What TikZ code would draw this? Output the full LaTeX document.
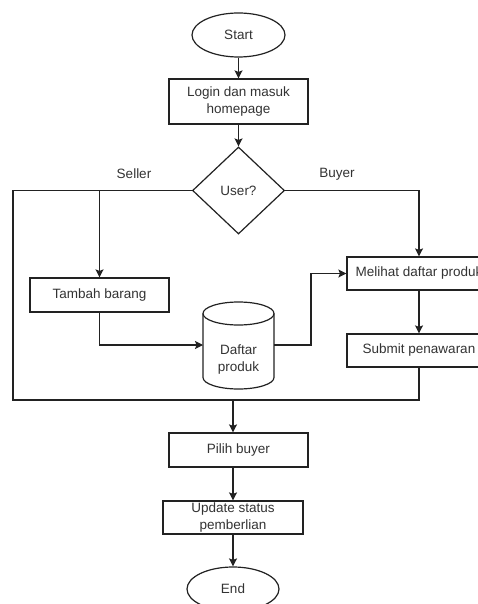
\documentclass[tikz,border=0pt]{standalone}
\usepackage{fontspec}
\setmainfont{Liberation Sans}
\usetikzlibrary{shapes.geometric,arrows.meta}
\definecolor{ln}{HTML}{222222}
\definecolor{tx}{HTML}{333333}
\tikzset{
  base/.style={draw=ln, line width=1.2pt, text=tx, font=\fontsize{13.5}{17}\selectfont, align=center, inner sep=0pt},
  procbox/.style={base, rectangle, minimum width=139pt, minimum height=34pt},
  term/.style={base, ellipse, minimum width=93pt, minimum height=44pt},
  decision/.style={base, diamond, minimum width=92pt, minimum height=87pt},
  lbl/.style={text=tx, font=\fontsize{13.5}{17}\selectfont, inner sep=0pt},
  conn/.style={draw=ln, line width=1.2pt},
  arr/.style={conn, -{Stealth[length=8pt,width=8pt,inset=1.5pt]}}
}
\begin{document}
\begin{tikzpicture}[x=1pt,y=-1pt]
\useasboundingbox (0,0) rectangle (478,604);
\clip (0,0) rectangle (478,604);
\fill[white] (0,0) rectangle (478,604);

\node[term] (start) at (238.5,35) {Start};
\node[procbox, minimum height=45pt] (login) at (238.5,101.5) {Login dan masuk\\homepage};
\node[decision] (dec) at (238.5,190.5) {User?};
\node[lbl] (seller) at (134,174) {Seller};
\node[lbl] (buyer) at (337,174) {Buyer};
\node[procbox] (tam) at (99.5,295) {Tambah barang};
\node[procbox, minimum width=144pt, minimum height=33pt] (mel) at (419,273.5) {Melihat daftar produk};
\node[procbox, minimum width=144pt, minimum height=33pt] (sub) at (419,350.5) {Submit penawaran};

% cylinder
\node[lbl, align=center] (db) at (238.5,360) {Daftar\\produk};
\draw[conn] (203,313.5) -- (203,377.5) arc[start angle=180, end angle=0, x radius=35.5, y radius=11.5] -- (274,313.5);
\draw[conn] (238.5,313.5) ellipse [x radius=35.5, y radius=11.5];
\coordinate (dbw) at (203,345);
\coordinate (dbe) at (274,345);

\node[procbox] (pil) at (238.5,450) {Pilih buyer};
\node[procbox, minimum width=140pt, minimum height=33pt] (upd) at (233,517.5) {Update status\\pemberlian};
\node[term, minimum width=92pt] (end) at (233,589) {End};

\coordinate (corner) at (13,400);
\coordinate (join) at (233,400);

\draw[arr] (start) -- (login);
\draw[arr] (login) -- (dec.north);
\draw[conn] (dec.west) -| (corner) -| (sub.south);
\draw[arr] (tam.north |- dec.west) -- (tam.north);
\draw[arr] (dec.east) -| (mel.north);
\draw[arr] (tam.south) |- (dbw);
\draw[arr] (dbe) -- ++(37,0) |- (mel.west);
\draw[arr] (mel) -- (sub);
\draw[arr] (join) -- (join |- pil.north);
\draw[arr] (upd.north |- pil.south) -- (upd.north);
\draw[arr] (upd) -- (end);
\end{tikzpicture}
\end{document}
